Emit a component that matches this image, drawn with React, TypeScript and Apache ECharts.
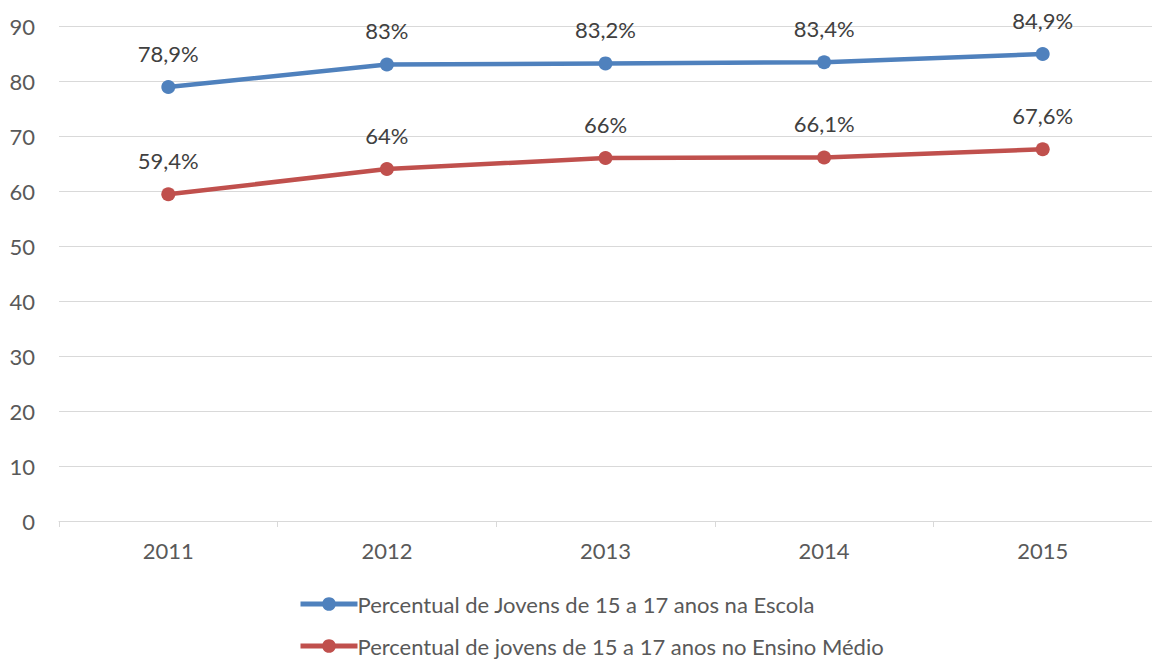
import React, { useEffect, useRef } from "react";
import * as echarts from "echarts";

const categories = ["2011", "2012", "2013", "2014", "2015"];
const escola = [78.9, 83, 83.2, 83.4, 84.9];
const ensinoMedio = [59.4, 64, 66, 66.1, 67.6];
const seriesNames = [
  "Percentual de Jovens de 15 a 17 anos na Escola",
  "Percentual de jovens de 15 a 17 anos no Ensino Médio",
];
const colors = ["#4f81bd", "#c0504d"];

const FONT = "Lato, 'Open Sans', sans-serif";
const fmt = (p: any) => String(p.value).replace(".", ",") + "%";

export default function App() {
  const ref = useRef<HTMLDivElement>(null);
  useEffect(() => {
    const chart = echarts.init(ref.current!, null, { renderer: "svg" });
    const legendBase = {
      orient: "horizontal",
      left: 298,
      padding: 0,
      itemWidth: 57,
      itemHeight: 17,
      itemGap: 10,
      lineStyle: { width: 5 },
      textStyle: { color: "#595959", fontSize: 22, fontFamily: FONT, padding: [0, 0, 0, -5] },
    };
    chart.setOption({
      animation: false,
      textStyle: { fontFamily: FONT },
      grid: { left: 59, top: 26, width: 1095, height: 495, containLabel: false },
      xAxis: {
        type: "category",
        data: categories,
        boundaryGap: true,
        axisLine: { lineStyle: { color: "#d9d9d9", width: 1 } },
        axisTick: { show: true, length: 6, alignWithLabel: false, lineStyle: { color: "#d9d9d9" } },
        axisLabel: { color: "#595959", fontSize: 22, fontFamily: FONT, margin: 18 },
        splitLine: { show: false },
      },
      yAxis: {
        type: "value",
        min: 0,
        max: 90,
        interval: 10,
        axisLine: { show: false },
        axisTick: { show: false },
        axisLabel: { color: "#595959", fontSize: 22, fontFamily: FONT, margin: 24 },
        splitLine: { lineStyle: { color: "#d9d9d9", width: 1 } },
      },
      legend: [
        { ...legendBase, top: 593, data: [seriesNames[0]] },
        { ...legendBase, top: 635, data: [seriesNames[1]] },
      ],
      series: [escola, ensinoMedio].map((d, i) => ({
        name: seriesNames[i],
        type: "line",
        data: d,
        color: colors[i],
        symbol: "circle",
        symbolSize: 14,
        lineStyle: { width: 4.5, color: colors[i] },
        itemStyle: { color: colors[i] },
        label: {
          show: true,
          position: "top",
          distance: 16,
          formatter: fmt,
          color: "#404040",
          fontSize: 22,
          fontFamily: FONT,
        },
      })),
    });
    return () => chart.dispose();
  }, []);
  return (
    <div
      ref={ref}
      style={{ position: "fixed", left: 0, top: 0, width: 1152, height: 660, background: "#fff" }}
    />
  );
}
